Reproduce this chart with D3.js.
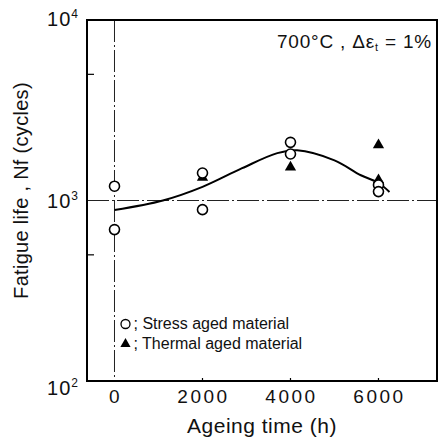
<!DOCTYPE html>
<html>
<head>
<meta charset="utf-8">
<script src="https://cdn.jsdelivr.net/npm/d3@7"></script>
<style>
  body { margin: 0; background: #fff; }
  text { font-family: "Liberation Sans", Arial, sans-serif; fill: #111; }
</style>
</head>
<body>
<div id="plot"></div>
<script>
// stress aged material (open circles)
var stressTimes = [0, 0, 2000, 2000, 4000, 4000, 6000, 6000];
var stressLife = [1200, 690, 1420, 890, 2100, 1810, 1220, 1120];

// thermal aged material (filled triangles)
var thermalTimes = [2000, 4000, 6000, 6000];
var thermalLife = [1340, 1530, 2030, 1300];

// trend curve drawn by hand in the original
var trendTimes = [0, 1100, 2000, 2900, 3700, 4150, 5000, 5600, 6000, 6250];
var trendLife = [886, 1000, 1190, 1510, 1830, 1900, 1670, 1380, 1250, 1115];

var xTicks = [0, 2000, 4000, 6000];
var yDecades = [2, 3, 4];
var yMinorTicks = [500, 5000];

let margin = {top: 20, right: 6, bottom: 64, left: 87},
    width = 443 - margin.left - margin.right,
    height = 445 - margin.top - margin.bottom;

let svg = d3.select("#plot")
  .append("svg")
  .attr("width", 443)
  .attr("height", 445)
  .append("g")
  .attr("transform", `translate(${margin.left},${margin.top})`);

let x = d3.scaleLinear()
  .domain([-625, 7330])
  .range([0, width]);

let y = d3.scaleLog()
  .domain([100, 10000])
  .range([height, 0]);

// dash-dot reference lines
svg.append("line")
  .attr("x1", x(0)).attr("x2", x(0))
  .attr("y1", 0).attr("y2", height)
  .style("stroke", "#222")
  .style("stroke-width", 1)
  .style("stroke-dasharray", "22,3,2,3");

svg.append("line")
  .attr("x1", 0).attr("x2", width)
  .attr("y1", y(1000)).attr("y2", y(1000))
  .style("stroke", "#222")
  .style("stroke-width", 1)
  .style("stroke-dasharray", "22,3,2,3");

// frame
svg.append("rect")
  .attr("width", width)
  .attr("height", height)
  .style("fill", "none")
  .style("stroke", "#000")
  .style("stroke-width", 2);

// inner ticks
svg.selectAll(".ytick")
  .data(yMinorTicks)
  .join("line")
  .attr("class", "ytick")
  .attr("x1", 0).attr("x2", 7)
  .attr("y1", d => y(d)).attr("y2", d => y(d))
  .style("stroke", "#000")
  .style("stroke-width", 1.2);

svg.selectAll(".xtick")
  .data(xTicks.filter(d => d > 0))
  .join("line")
  .attr("class", "xtick")
  .attr("x1", d => x(d)).attr("x2", d => x(d))
  .attr("y1", height).attr("y2", height - 3)
  .style("stroke", "#000")
  .style("stroke-width", 1.2);

// x tick labels
svg.selectAll(".xlab")
  .data(xTicks)
  .join("text")
  .attr("class", "xlab")
  .attr("x", d => x(d) + 1)
  .attr("y", height + 22)
  .attr("text-anchor", "middle")
  .style("font-size", "19px")
  .style("letter-spacing", "2.5px")
  .text(d => d);

// y tick labels 10^n
let ylab = svg.selectAll(".ylab")
  .data(yDecades)
  .join("text")
  .attr("class", "ylab")
  .attr("x", -8)
  .attr("y", d => y(Math.pow(10, d)) + (d == 2 ? 14 : (d == 4 ? 6 : 7)))
  .attr("text-anchor", "end")
  .style("font-size", "20px")
  .style("letter-spacing", "1px");
ylab.append("tspan").text("10");
ylab.append("tspan")
  .attr("dy", -8)
  .style("font-size", "12px")
  .text(d => d);

// trend curve
let line = d3.line()
  .x(d => x(d[0]))
  .y(d => y(d[1]))
  .curve(d3.curveCatmullRom);

svg.append("path")
  .datum(trendTimes.map((t, i) => [t, trendLife[i]]))
  .attr("d", line)
  .style("fill", "none")
  .style("stroke", "#000")
  .style("stroke-width", 2);

// markers
let tri = d3.symbol().type(d3.symbolTriangle).size(55);

svg.selectAll(".thermal")
  .data(thermalTimes.map((t, i) => [t, thermalLife[i]]))
  .join("path")
  .attr("class", "thermal")
  .attr("d", tri)
  .attr("transform", d => `translate(${x(d[0])},${y(d[1])})`)
  .style("fill", "#000");

svg.selectAll(".stress")
  .data(stressTimes.map((t, i) => [t, stressLife[i]]))
  .join("circle")
  .attr("class", "stress")
  .attr("cx", d => x(d[0]))
  .attr("cy", d => y(d[1]))
  .attr("r", 5)
  .style("fill", "#fff")
  .style("stroke", "#000")
  .style("stroke-width", 1.6);

// condition label
let cond = svg.append("text")
  .attr("x", width - 5)
  .attr("y", 28)
  .attr("text-anchor", "end")
  .style("font-size", "19px")
  .style("letter-spacing", "0.8px");
cond.append("tspan").text("700°C , Δε");
cond.append("tspan").attr("dy", 3).style("font-size", "11px").text("t");
cond.append("tspan").attr("dy", -3).text(" = 1%");

// legend
let legend = svg.append("g")
  .attr("transform", `translate(${x(0) + 11}, 304)`);

legend.append("circle")
  .attr("cx", 0).attr("cy", 0)
  .attr("r", 4.5)
  .style("fill", "#fff")
  .style("stroke", "#000")
  .style("stroke-width", 1.3);
legend.append("text")
  .attr("x", 8).attr("y", 5)
  .style("font-size", "16px")
  .text("; Stress aged material");

legend.append("path")
  .attr("d", d3.symbol().type(d3.symbolTriangle).size(45))
  .attr("transform", "translate(0,20)")
  .style("fill", "#000");
legend.append("text")
  .attr("x", 8).attr("y", 25)
  .style("font-size", "16px")
  .text("; Thermal aged material");

// axis titles
svg.append("text")
  .attr("x", 262 - margin.left)
  .attr("y", height + 52)
  .attr("text-anchor", "middle")
  .style("font-size", "21px")
  .style("letter-spacing", "0.5px")
  .text("Ageing time (h)");

svg.append("text")
  .attr("transform", `translate(${-margin.left + 28}, ${height / 2 - 10}) rotate(-90)`)
  .attr("text-anchor", "middle")
  .style("font-size", "20px")
  .style("letter-spacing", "0.3px")
  .text("Fatigue life , Nf (cycles)");
</script>
</body>
</html>
